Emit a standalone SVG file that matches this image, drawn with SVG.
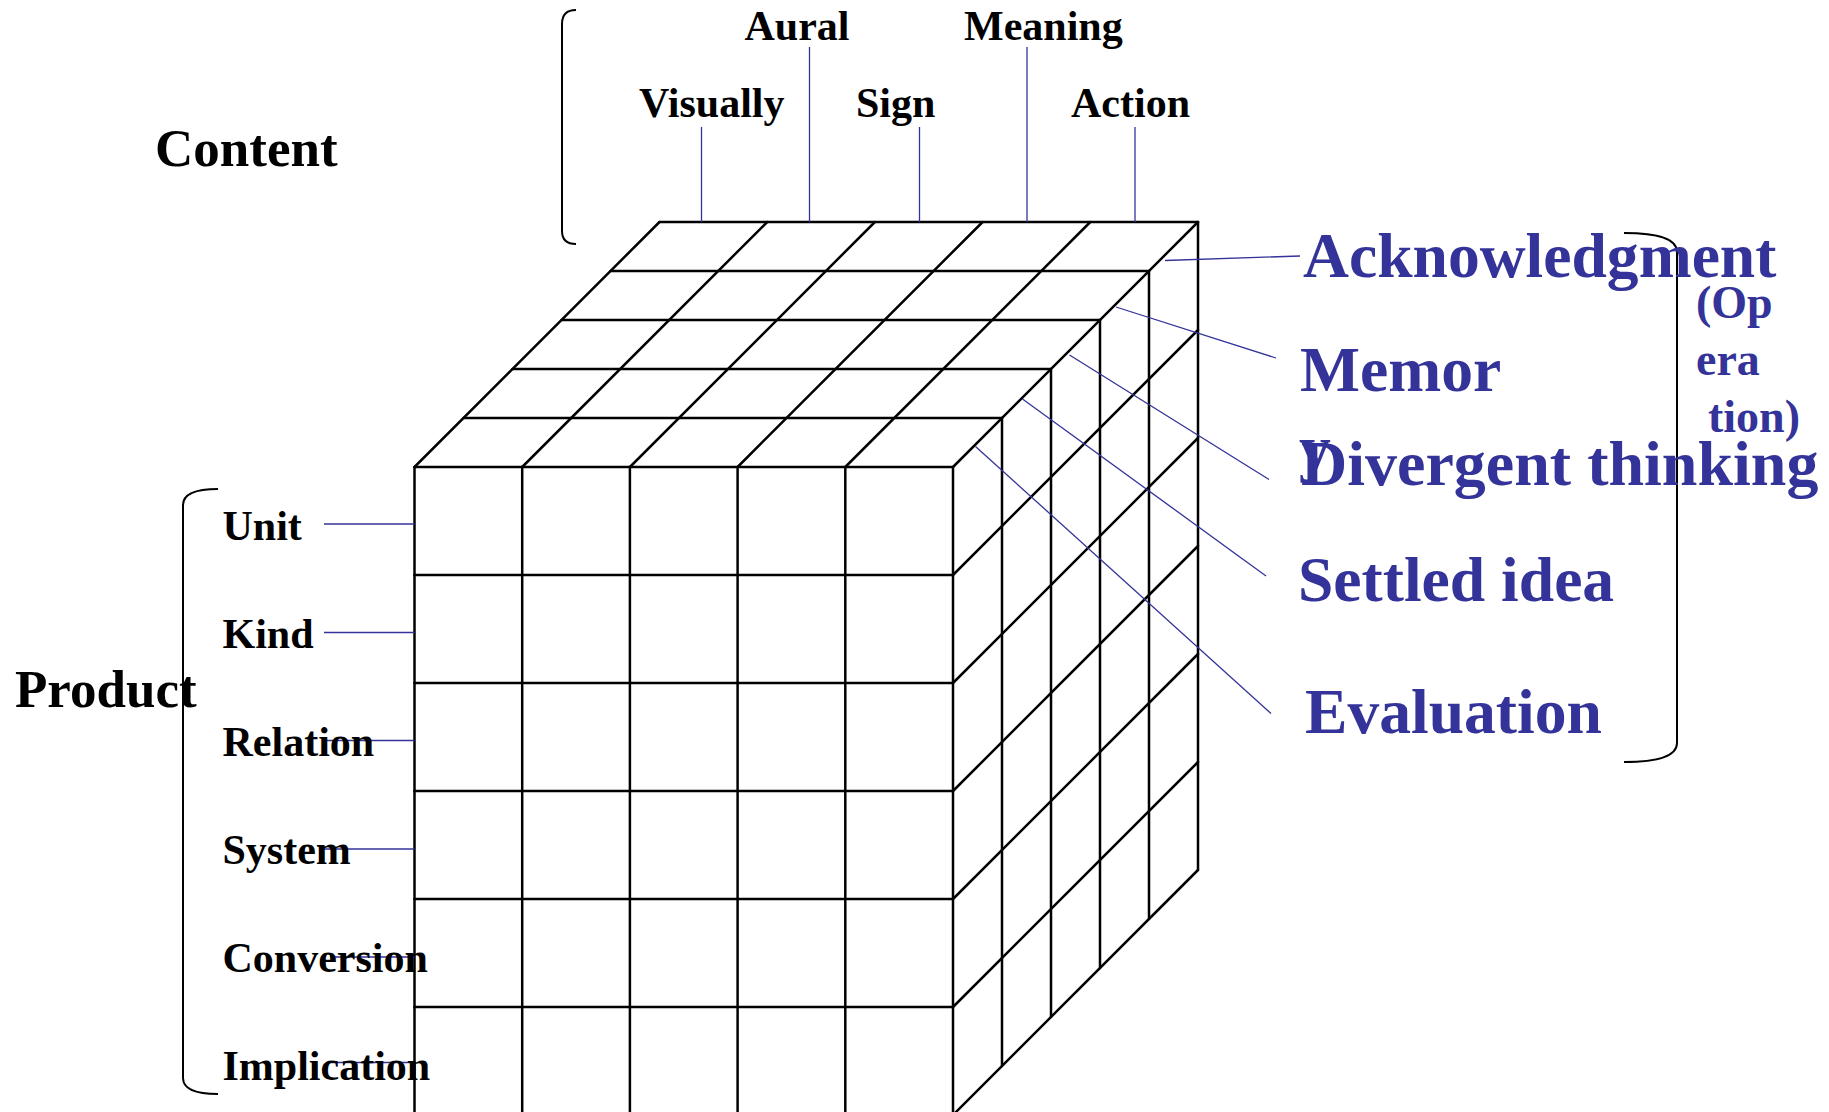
<svg xmlns="http://www.w3.org/2000/svg" width="1829" height="1112" viewBox="0 0 1829 1112">
<style>
.bk{font-family:"Liberation Serif","Times New Roman",serif;font-weight:bold;fill:#000}
.bl{font-family:"Liberation Serif","Times New Roman",serif;font-weight:bold;fill:#333399}
.cube line{stroke:#000;stroke-width:2.5;stroke-linecap:round}
.conn line{stroke:#333399;stroke-width:1.3}
.br{fill:none;stroke:#000;stroke-width:2}
</style>
<rect width="1829" height="1112" fill="#fff"/>
<g id="cube" class="cube">
<line x1="414.5" y1="467" x2="414.5" y2="1115"/>
<line x1="522.2" y1="467" x2="522.2" y2="1115"/>
<line x1="629.9" y1="467" x2="629.9" y2="1115"/>
<line x1="737.6" y1="467" x2="737.6" y2="1115"/>
<line x1="845.3" y1="467" x2="845.3" y2="1115"/>
<line x1="953" y1="467" x2="953" y2="1115"/>
<line x1="414.5" y1="467" x2="953" y2="467"/>
<line x1="414.5" y1="575" x2="953" y2="575"/>
<line x1="414.5" y1="683" x2="953" y2="683"/>
<line x1="414.5" y1="791" x2="953" y2="791"/>
<line x1="414.5" y1="899" x2="953" y2="899"/>
<line x1="414.5" y1="1007" x2="953" y2="1007"/>
<line x1="463.5" y1="418" x2="1002" y2="418"/>
<line x1="512.5" y1="369" x2="1051" y2="369"/>
<line x1="561.5" y1="320" x2="1100" y2="320"/>
<line x1="610.5" y1="271" x2="1149" y2="271"/>
<line x1="659.5" y1="222" x2="1198" y2="222"/>
<line x1="414.5" y1="467" x2="659.5" y2="222"/>
<line x1="522.2" y1="467" x2="767.2" y2="222"/>
<line x1="629.9" y1="467" x2="874.9" y2="222"/>
<line x1="737.6" y1="467" x2="982.6" y2="222"/>
<line x1="845.3" y1="467" x2="1090.3" y2="222"/>
<line x1="953" y1="467" x2="1198" y2="222"/>
<line x1="1002" y1="418" x2="1002" y2="1066"/>
<line x1="1051" y1="369" x2="1051" y2="1017"/>
<line x1="1100" y1="320" x2="1100" y2="968"/>
<line x1="1149" y1="271" x2="1149" y2="919"/>
<line x1="1198" y1="222" x2="1198" y2="870"/>
<line x1="953" y1="575" x2="1198" y2="330"/>
<line x1="953" y1="683" x2="1198" y2="438"/>
<line x1="953" y1="791" x2="1198" y2="546"/>
<line x1="953" y1="899" x2="1198" y2="654"/>
<line x1="953" y1="1007" x2="1198" y2="762"/>
<line x1="953" y1="1115" x2="1198" y2="870"/>
</g>
<g id="connectors" class="conn">
<line x1="701.5" y1="127" x2="701.5" y2="222"/>
<line x1="809.5" y1="47" x2="809.5" y2="222"/>
<line x1="919.5" y1="127" x2="919.5" y2="222"/>
<line x1="1027" y1="47" x2="1027" y2="222"/>
<line x1="1135" y1="127" x2="1135" y2="222"/>
<line x1="324" y1="524" x2="414.5" y2="524"/>
<line x1="324" y1="632.5" x2="414.5" y2="632.5"/>
<line x1="324" y1="740.5" x2="414.5" y2="740.5"/>
<line x1="324" y1="849" x2="414.5" y2="849"/>
<line x1="330" y1="957" x2="414.5" y2="957"/>
<line x1="327" y1="1062.5" x2="414.5" y2="1062.5"/>
<line x1="1165" y1="260.5" x2="1300" y2="256"/>
<line x1="1116" y1="307" x2="1276" y2="358"/>
<line x1="1069.5" y1="355" x2="1269" y2="479.5"/>
<line x1="1022.5" y1="399" x2="1266" y2="576"/>
<line x1="975.5" y1="446.5" x2="1271" y2="713.5"/>
</g>
<g id="content-bracket"><path class="br" d="M576,10 Q562,10 562,24 L562,231 Q562,244 576,244"/></g>
<g id="product-bracket"><path class="br" d="M218,489 Q183,489 183,505 L183,1078 Q183,1094 218,1094"/></g>
<g id="operation-bracket"><path class="br" d="M1624,233 Q1677,233 1677,252 L1677,743 Q1677,762 1624,762"/></g>
<g id="content"><text class="bk" x="155" y="166" font-size="53">Content</text></g>
<g id="aural"><text class="bk" x="744.5" y="40" font-size="42">Aural</text></g>
<g id="meaning"><text class="bk" x="964" y="40" font-size="42">Meaning</text></g>
<g id="visually"><text class="bk" x="639" y="117" font-size="42">Visually</text></g>
<g id="sign"><text class="bk" x="856" y="117" font-size="42">Sign</text></g>
<g id="action"><text class="bk" x="1071" y="117" font-size="42">Action</text></g>
<g id="product"><text class="bk" x="15" y="707" font-size="53">Product</text></g>
<g id="unit"><text class="bk" x="222.5" y="540" font-size="42">Unit</text></g>
<g id="kind"><text class="bk" x="222.5" y="648" font-size="42">Kind</text></g>
<g id="relation"><text class="bk" x="222.5" y="755.5" font-size="42">Relation</text></g>
<g id="system"><text class="bk" x="222.5" y="863.5" font-size="42">System</text></g>
<g id="conversion"><text class="bk" x="222.5" y="971.5" font-size="42">Conversion</text></g>
<g id="implication"><text class="bk" x="222.5" y="1079.5" font-size="42">Implication</text></g>
<g id="acknowledgment"><text class="bl" x="1303" y="277" font-size="63.6">Acknowledgment</text></g>
<g id="memory"><text class="bl" x="1300" y="391" font-size="63.6">Memor</text><text class="bl" x="1299" y="469" font-size="63.6">y</text></g>
<g id="divergent"><text class="bl" x="1301" y="485" font-size="64">Divergent thinking</text></g>
<g id="settled"><text class="bl" x="1298" y="601" font-size="63.6">Settled idea</text></g>
<g id="evaluation"><text class="bl" x="1305" y="733" font-size="63.6">Evaluation</text></g>
<g id="operation"><text class="bl" x="1696" y="318" font-size="46">(Op</text><text class="bl" x="1696" y="375" font-size="46">era</text><text class="bl" x="1708" y="432" font-size="46">tion)</text></g>
</svg>
